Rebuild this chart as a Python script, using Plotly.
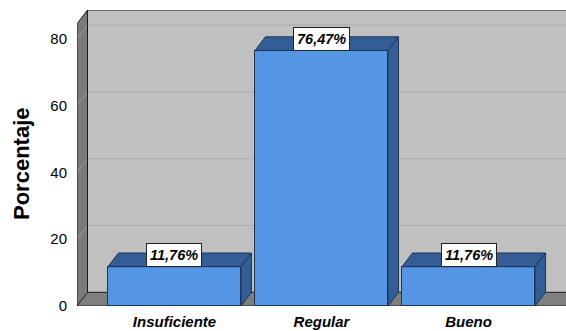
import plotly.graph_objects as go

categories = ["Insuficiente", "Regular", "Bueno"]
values = [11.76, 76.47, 11.76]
labels = ["11,76%", "76,47%", "11,76%"]
y_ticks = [0, 20, 40, 60, 80]

# geometry (data units)
XMIN, XMAX = -0.663, 2.663
YTOP = 88.6
DX, DY = 0.0714, 4.1
BW = 0.905

FRONT = "#5496e4"
DARK = "#335d94"
EDGE = "#1e3558"
SANS = "Liberation Sans, Arial, sans-serif"

fig = go.Figure()

xs = list(range(len(categories)))
fig.add_trace(go.Bar(x=xs, y=values, width=BW, marker=dict(color=FRONT, line=dict(color=EDGE, width=1)),
                     hoverinfo="skip", showlegend=False))

for x, v in zip(xs, values):
    l, r = x - BW / 2, x + BW / 2
    fig.add_trace(go.Scatter(x=[l, l + DX, r + DX, r, l], y=[v, v + DY, v + DY, v, v], fill="toself",
                             fillcolor=DARK, mode="lines", line=dict(color=EDGE, width=1),
                             hoverinfo="skip", showlegend=False))
    fig.add_trace(go.Scatter(x=[r, r + DX, r + DX, r, r], y=[0, DY, v + DY, v, 0], fill="toself",
                             fillcolor=DARK, mode="lines", line=dict(color=EDGE, width=1),
                             hoverinfo="skip", showlegend=False))

shapes = []
# back wall
shapes.append(dict(type="rect", xref="x", yref="y", x0=XMIN + DX, x1=XMAX + DX + 1, y0=DY, y1=YTOP,
                   fillcolor="#c0c0c0", line=dict(width=0), layer="below"))
# floor
shapes.append(dict(type="path", xref="x", yref="y",
                   path=f"M{XMIN},0 L{XMIN+DX},{DY} L{XMAX+DX+1},{DY} L{XMAX+1},0 Z",
                   fillcolor="#7f7f7f", line=dict(width=0), layer="below"))
# left wall
shapes.append(dict(type="path", xref="x", yref="y",
                   path=f"M{XMIN},0 L{XMIN+DX},{DY} L{XMIN+DX},{YTOP} L{XMIN},{YTOP-DY} Z",
                   fillcolor="#7a7a7a", line=dict(width=0), layer="below"))
# gridlines
for t in y_ticks[1:]:
    shapes.append(dict(type="line", xref="x", yref="y", x0=XMIN + DX, x1=XMAX + DX + 1, y0=t + DY, y1=t + DY,
                       line=dict(color="#acacac", width=1), layer="below"))
    shapes.append(dict(type="line", xref="x", yref="y", x0=XMIN, x1=XMIN + DX, y0=t, y1=t + DY,
                       line=dict(color="#9a9a9a", width=1), layer="below"))
# outlines
for (x0, y0, x1, y1) in [
    (XMIN, 0, XMIN, YTOP - DY),
    (XMIN, YTOP - DY, XMIN + DX, YTOP),
    (XMIN + DX, DY, XMIN + DX, YTOP),
    (XMIN + DX, YTOP, XMAX + DX + 1, YTOP),
    (XMIN + DX, DY, XMAX + DX + 1, DY),
    (XMIN, 0, XMIN + DX, DY),
    (XMIN, 0, XMAX + 1, 0),
]:
    shapes.append(dict(type="line", xref="x", yref="y", x0=x0, y0=y0, x1=x1, y1=y1,
                       line=dict(color="#1a1a1a", width=1), layer="below"))

annotations = []
for x, v, lab in zip(xs, values, labels):
    annotations.append(dict(x=x, y=v, xref="x", yref="y", text=lab, showarrow=False,
                            xanchor="center", yanchor="bottom", yshift=0,
                            font=dict(family=SANS, size=14.5, color="black", weight="bold", style="italic"),
                            bgcolor="white", bordercolor="#222222", borderwidth=1, borderpad=3))

pa_w, pa_h = 566 - 77, 331 - 10 - 25
annotations.append(dict(xref="paper", yref="paper", x=(21 - 77) / pa_w, y=(331 - 25 - 164) / pa_h,
                        xanchor="center", yanchor="middle", text="Porcentaje", showarrow=False,
                        textangle=-90, font=dict(family=SANS, size=22, color="black", weight="bold")))

fig.update_layout(
    width=566, height=331,
    margin=dict(l=77, r=0, t=10, b=25, pad=0),
    paper_bgcolor="white", plot_bgcolor="white",
    shapes=shapes, annotations=annotations,
    bargap=0, showlegend=False,
    xaxis=dict(range=[XMIN, XMAX], tickvals=xs, ticktext=categories, showgrid=False, zeroline=False,
               showline=False, ticks="", ticklabelstandoff=5,
               tickfont=dict(family=SANS, size=15, color="black", weight="bold", style="italic"),
               fixedrange=True),
    yaxis=dict(range=[0, YTOP], tickvals=y_ticks, showgrid=False, zeroline=False, showline=False,
               ticks="", ticklabelstandoff=9,
               tickfont=dict(family=SANS, size=15, color="black"),
               fixedrange=True),
)

fig.write_html("out.html")
